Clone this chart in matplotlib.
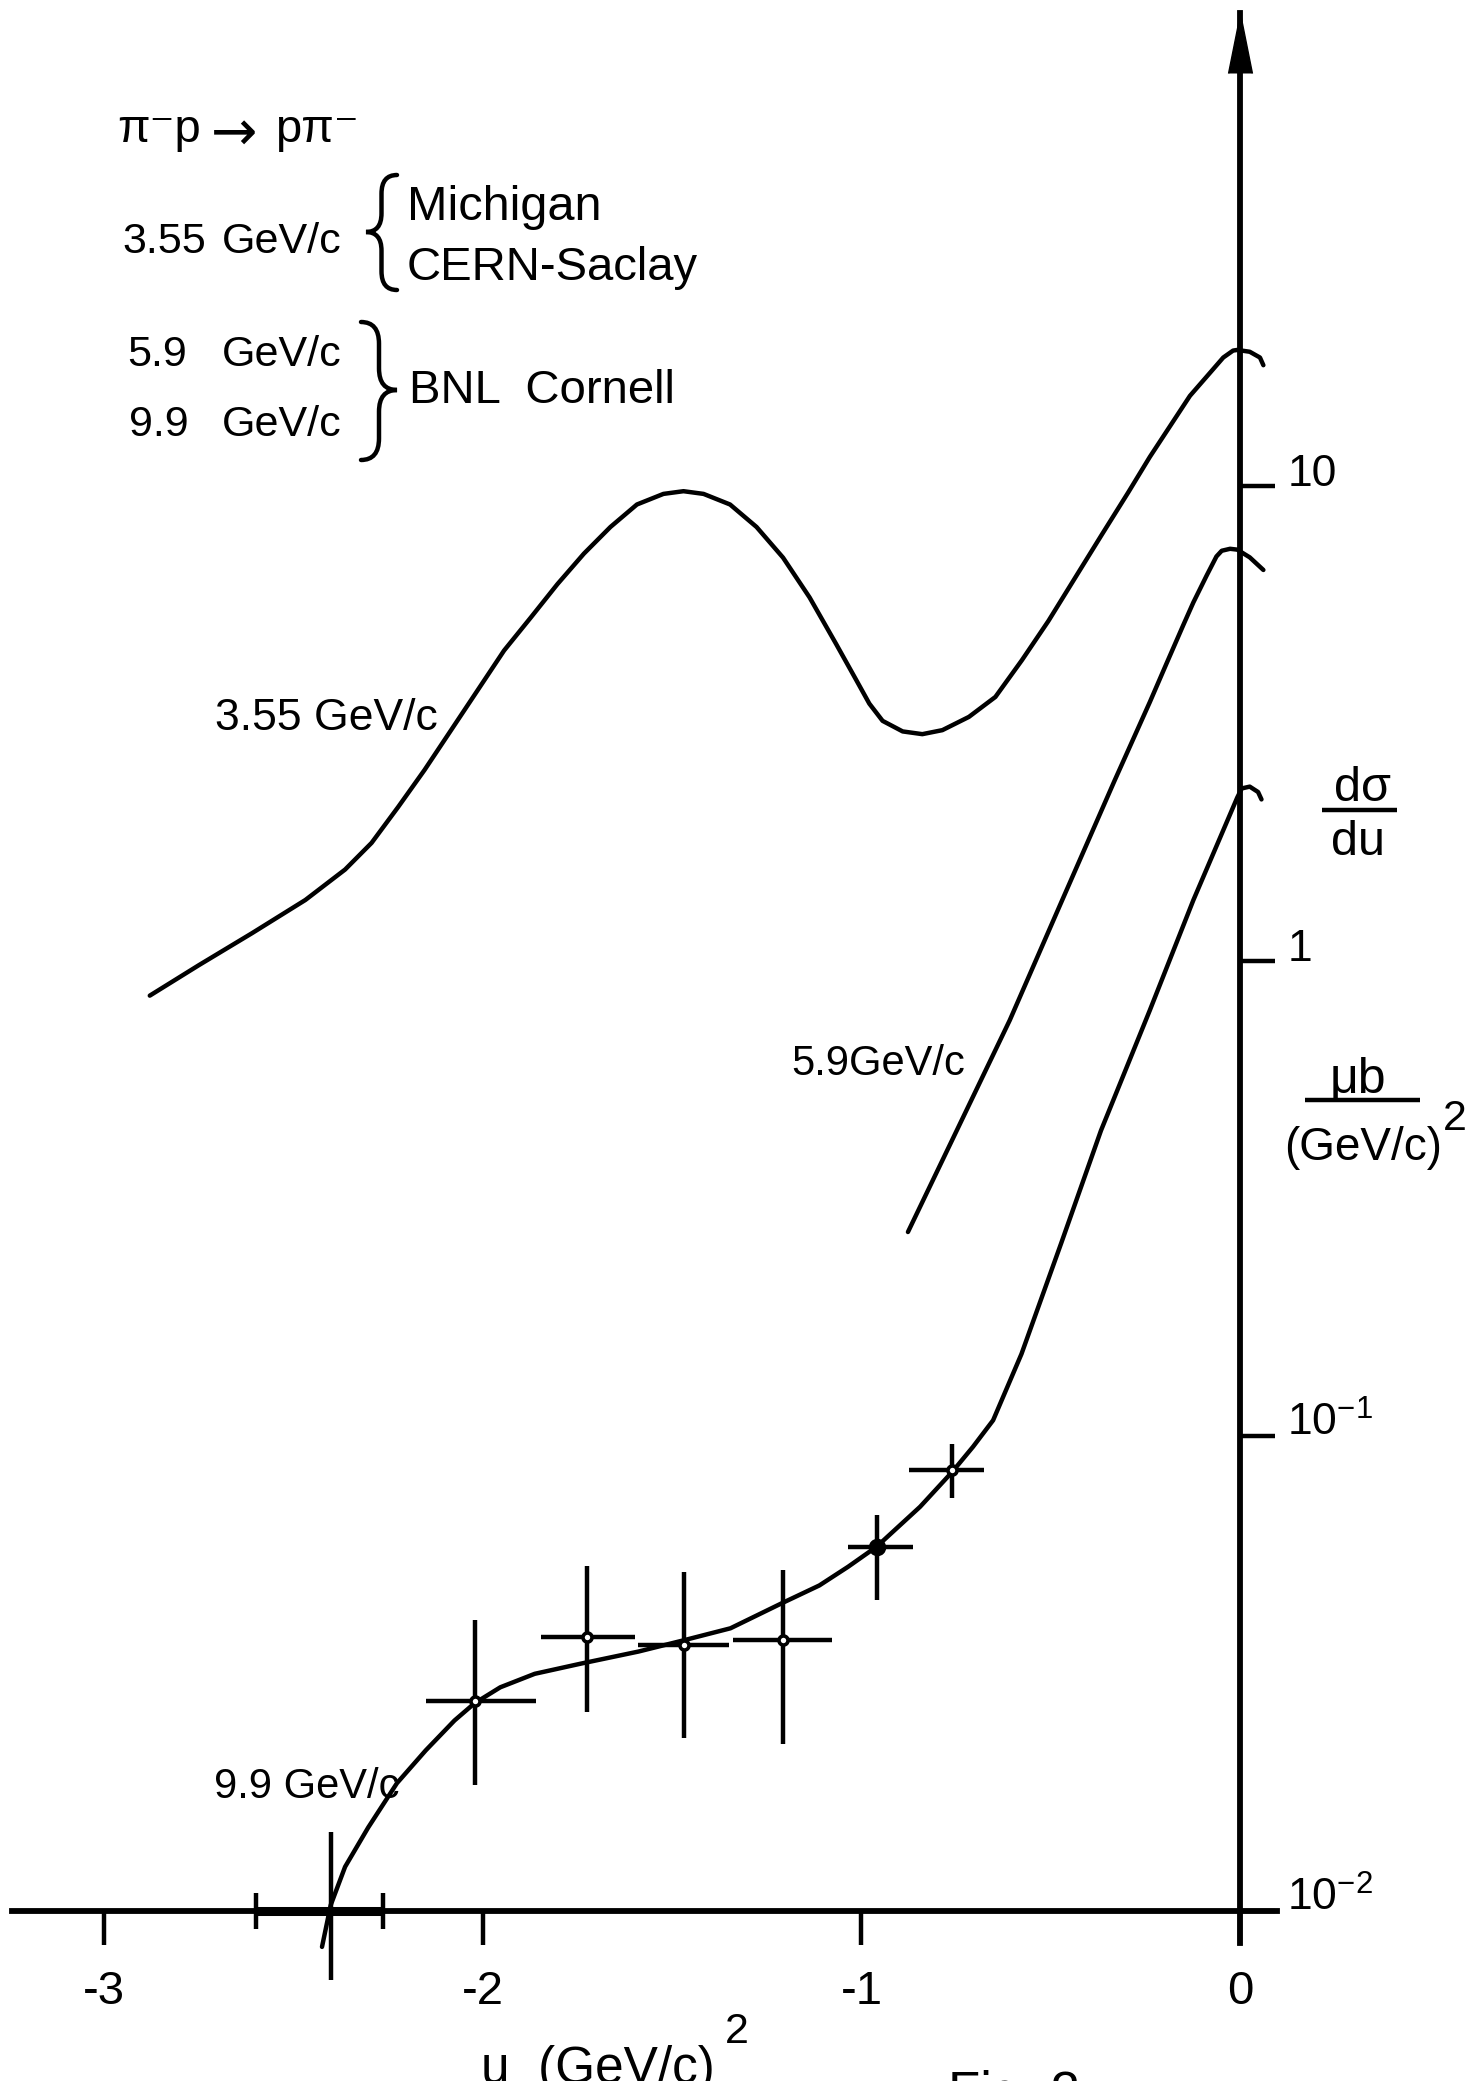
"""Backward pi- p elastic scattering: d sigma/du against u (figure redraw)."""

import matplotlib

matplotlib.use("Agg")
import matplotlib.pyplot as plt
from matplotlib.lines import Line2D
from matplotlib.patches import PathPatch
from matplotlib.path import Path
from matplotlib.ticker import NullLocator

FAMILY = ["Liberation Sans", "DejaVu Sans"]
plt.rcParams["font.family"] = FAMILY
plt.rcParams["mathtext.fontset"] = "custom"
plt.rcParams["mathtext.rm"] = "Liberation Sans"
plt.rcParams["mathtext.it"] = "Liberation Sans:italic"
plt.rcParams["mathtext.default"] = "regular"

# --- curves (u in (GeV/c)^2, dsigma/du in mub/(GeV/c)^2)
u_355 = [-2.880, -2.750, -2.610, -2.469, -2.364, -2.294, -2.224, -2.154, -2.084,
         -2.014, -1.944, -1.873, -1.803, -1.733, -1.663, -1.593, -1.523, -1.470,
         -1.417, -1.347, -1.277, -1.207, -1.137, -1.067, -1.014, -0.979, -0.944,
         -0.891, -0.839, -0.786, -0.716, -0.646, -0.576, -0.506, -0.436, -0.365,
         -0.295, -0.238, -0.132, -0.079, -0.044, -0.018, -0.007, 0.026,
         0.053, 0.062]
s_355 = [0.846, 0.981, 1.145, 1.345, 1.559, 1.774, 2.110, 2.527, 3.064,
         3.716, 4.507, 5.294, 6.219, 7.210, 8.203, 9.148, 9.630, 9.757,
         9.630, 9.148, 8.203, 7.071, 5.832, 4.656, 3.912, 3.484, 3.205,
         3.045, 3.005, 3.064, 3.267, 3.599, 4.30, 5.20, 6.40, 7.90,
         9.70, 11.52, 15.49, 17.32, 18.65, 19.29, 19.35, 19.18,
         18.65, 17.97]

u_59 = [-0.877, -0.608, -0.472, -0.331, -0.238, -0.194, -0.150, -0.123, -0.088,
        -0.062, -0.048, -0.026, -0.007, 0.026, 0.062]
s_59 = [0.269, 0.751, 1.33, 2.40, 3.51, 4.23, 5.09, 5.69, 6.48,
        7.11, 7.31, 7.38, 7.35, 7.08, 6.66]

u_99 = [-2.425, -2.402, -2.364, -2.303, -2.227, -2.151, -2.075, -2.022, -1.954,
        -1.863, -1.741, -1.589, -1.468, -1.346, -1.210, -1.111, -1.035, -0.960,
        -0.845, -0.760, -0.705, -0.652, -0.577, -0.472, -0.367, -0.238, -0.123,
        -0.007, 0.005, 0.026, 0.048, 0.057]
s_99 = [0.00841, 0.0103, 0.0124, 0.0150, 0.0186, 0.0218, 0.0252, 0.0274, 0.0296,
        0.0316, 0.0332, 0.0352, 0.0372, 0.0394, 0.0445, 0.0485, 0.0531, 0.0585,
        0.0710, 0.0841, 0.0950, 0.108, 0.149, 0.255, 0.440, 0.788, 1.344,
        2.21, 2.31, 2.33, 2.27, 2.19]

# --- 9.9 GeV/c data points with error bars
pt_u = [-2.022, -1.726, -1.468, -1.207, -0.960, -0.761]
pt_s = [0.0277, 0.0377, 0.0364, 0.0373, 0.0585, 0.0848]
pt_s_lo = [0.0184, 0.0263, 0.0231, 0.0225, 0.0452, 0.0740]
pt_s_hi = [0.0410, 0.0532, 0.0518, 0.0522, 0.0682, 0.0962]
pt_u_lo = [-2.151, -1.847, -1.589, -1.339, -1.036, -0.873]
pt_u_hi = [-1.860, -1.597, -1.349, -1.078, -0.864, -0.675]
pt_filled = [False, False, False, False, True, False]

# point sitting on the axis (its x-bar is drawn thick)
edge_u, edge_s = -2.402, 0.01
edge_s_lo, edge_s_hi = 0.00716, 0.0147
edge_u_lo, edge_u_hi = -2.599, -2.265

x_ticks = [-3, -2, -1, 0]
x_ticklabels = ["-3", "-2", "-1", "0"]
y_ticks = [0.01, 0.1, 1, 10]
y_ticklabels = [r"$10^{-2}$", r"$10^{-1}$", "1", "10"]

W, H = 1468, 2081
LW = 3.2


def fig_xy(x, y):
    """pixel position (from top-left) -> figure fraction"""
    return x / W, 1 - y / H


def ftext(x, y, s, **kw):
    kw.setdefault("va", "baseline")
    fx, fy = fig_xy(x, y)
    fig.text(fx, fy, s, **kw)


def fline(x0, x1, y, lw=LW):
    (a, b), (c, d) = fig_xy(x0, y), fig_xy(x1, y)
    fig.add_artist(Line2D([a, c], [b, d], color="black", lw=lw,
                          transform=fig.transFigure, solid_capstyle="butt"))


def brace(x_end, x_tip, y0, y1, ym):
    """curly brace: ends at x_end, point at x_tip"""
    xb = (x_end + x_tip) / 2
    r = abs(x_tip - x_end) * 0.6
    pts = [(x_end, y0), (xb, y0), (xb, y0 + r), (xb, ym - r), (xb, ym), (x_tip, ym),
           (xb, ym), (xb, ym + r), (xb, y1 - r), (xb, y1), (x_end, y1)]
    codes = [Path.MOVETO, Path.CURVE3, Path.CURVE3, Path.LINETO, Path.CURVE3,
             Path.CURVE3, Path.CURVE3, Path.CURVE3, Path.LINETO, Path.CURVE3,
             Path.CURVE3]
    path = Path([fig_xy(*p) for p in pts], codes)
    fig.add_artist(PathPatch(path, fill=False, lw=LW, color="black",
                             transform=fig.transFigure, capstyle="round"))


fig = plt.figure(figsize=(W / 100, H / 100), dpi=100)
ax = fig.add_axes([12 / W, 1 - 1943 / H, 1265 / W, 1930 / H])
ax.patch.set_visible(False)
ax.set_yscale("log")
ax.set_xlim(-3.244, 0.098)
ax.set_ylim(10 ** -2.067, 10 ** 1.996)

for name in ("top", "left"):
    ax.spines[name].set_visible(False)
ax.spines["right"].set_position(("data", 0))
ax.spines["bottom"].set_position(("data", 0.01))
ax.spines["right"].set_linewidth(4.2)
ax.spines["bottom"].set_linewidth(4.2)

ax.yaxis.set_ticks_position("right")
ax.set_yticks(y_ticks)
ax.set_yticklabels(y_ticklabels)
ax.yaxis.set_minor_locator(NullLocator())
ax.tick_params(axis="y", direction="out", length=25, width=LW, pad=9, labelsize=32)
for lbl in ax.get_yticklabels():
    lbl.set_verticalalignment("baseline")

ax.set_xticks(x_ticks)
ax.set_xticklabels(x_ticklabels)
ax.tick_params(axis="x", direction="out", length=24.5, width=LW, pad=18, labelsize=34)

# arrow head on top of the ordinate
ax.plot([0], [10 ** 1.996 / 10 ** (60 / 475)], marker=[(-0.2, 0), (0, 1), (0.2, 0)],
        markersize=86, color="black", clip_on=False, zorder=5)

line_kw = dict(color="black", lw=LW, clip_on=False, solid_capstyle="round",
               solid_joinstyle="round")
ax.plot(u_355, s_355, **line_kw)
ax.plot(u_59, s_59, **line_kw)
ax.plot(u_99, s_99, **line_kw)

for u, s, slo, shi, ulo, uhi, filled in zip(pt_u, pt_s, pt_s_lo, pt_s_hi,
                                              pt_u_lo, pt_u_hi, pt_filled):
    ax.errorbar([u], [s], yerr=[[s - slo], [shi - s]], xerr=[[u - ulo], [uhi - u]],
                fmt="o", ms=10 if filled else 6.5, mfc="black" if filled else "white",
                mec="black", mew=2.6, ecolor="black", elinewidth=LW, capsize=0,
                zorder=4)

ax.errorbar([edge_u], [edge_s], yerr=[[edge_s - edge_s_lo], [edge_s_hi - edge_s]],
            fmt="none", ecolor="black", elinewidth=LW, capsize=0, clip_on=False)
ax.errorbar([edge_u], [edge_s], xerr=[[edge_u - edge_u_lo], [edge_u_hi - edge_u]],
            fmt="none", ecolor="black", elinewidth=6.5, capsize=13.3, capthick=LW,
            clip_on=False)

# curve labels
ftext(215, 730, "3.55 GeV/c", fontsize=32)
ftext(791, 1075, "5.9GeV/c", fontsize=30)
ftext(214, 1798, "9.9 GeV/c", fontsize=30)

# key in the upper left
ftext(117, 142, "π⁻p", fontsize=34)
ftext(211, 150, "→", fontsize=40, family=["DejaVu Sans"])
ftext(275, 142, "pπ⁻", fontsize=34)
ftext(122, 253, "3.55", fontsize=31)
ftext(342, 253, "GeV/c", fontsize=31, ha="right")
brace(397, 366, 175, 290, 232)
ftext(407, 220, "Michigan", fontsize=35)
ftext(407, 280, "CERN-Saclay", fontsize=34)
ftext(127, 366, "5.9", fontsize=31)
ftext(342, 366, "GeV/c", fontsize=31, ha="right")
ftext(129, 436, "9.9", fontsize=31)
ftext(342, 436, "GeV/c", fontsize=31, ha="right")
brace(361, 397, 322, 460, 390)
ftext(409, 403, "BNL  Cornell", fontsize=34)

# ordinate unit
ftext(1363, 801, "dσ", fontsize=35, ha="center")
fline(1322, 1397, 810)
ftext(1358, 855, "du", fontsize=35, ha="center")
ftext(1358, 1093, "μb", fontsize=36, ha="center")
fline(1305, 1420, 1100)
ftext(1363, 1160, "(GeV/c)", fontsize=33, ha="center")
ftext(1443, 1130, "2", fontsize=31)

# abscissa title and figure number
ftext(481, 2083, "u  (GeV/c)", fontsize=37)
ftext(725, 2043, "2", fontsize=31)
ftext(948, 2109, "Fig. 2", fontsize=38)

fig.savefig("out.png", dpi=100)
